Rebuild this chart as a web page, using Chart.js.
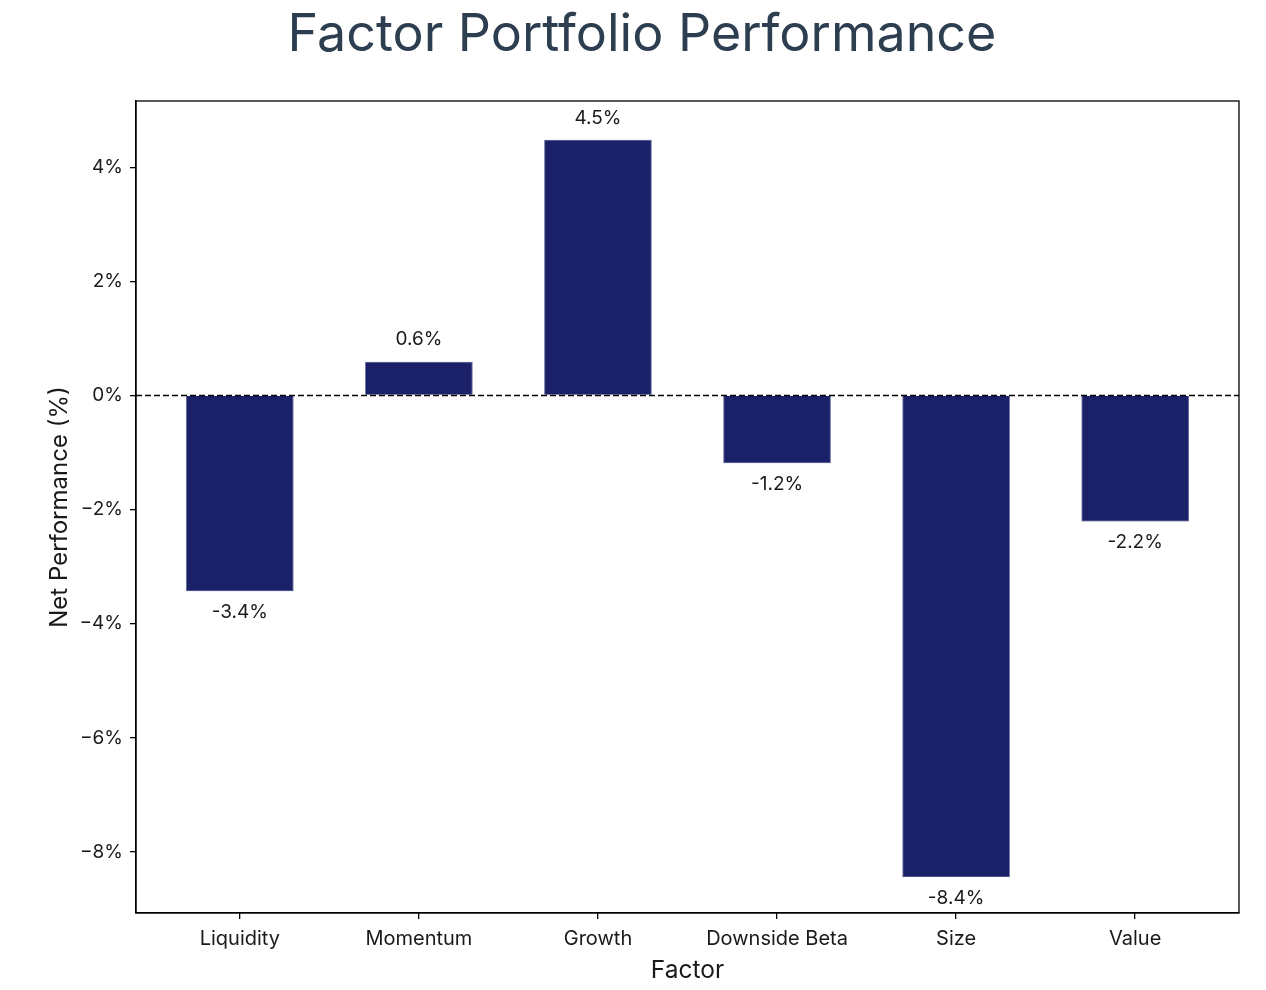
<!DOCTYPE html>
<html>
<head>
<meta charset="utf-8">
<script src="https://cdn.jsdelivr.net/npm/chart.js@4.4.0/dist/chart.umd.min.js"></script>
<style>
  html, body { margin: 0; padding: 0; background: #fff; }
  #wrap { width: 1266px; height: 990px; }
</style>
</head>
<body>
<div id="wrap"><canvas id="myChart"></canvas></div>
<script>
const factors = ['Liquidity', 'Momentum', 'Growth', 'Downside Beta', 'Size', 'Value'];
const performance = [-3.43, 0.59, 4.48, -1.19, -8.44, -2.21];
const yTicks = [-8, -6, -4, -2, 0, 2, 4];

const FONT = 'Inter, "Noto Sans", sans-serif';

// top + right spines, like a matplotlib frame
const frame = {
    id: 'frame',
    afterDraw(chart) {
        const a = chart.chartArea;
        const c = chart.ctx;
        c.save();
        c.strokeStyle = '#000';
        c.lineWidth = 1.3;
        c.strokeRect(a.left, a.top, a.right - a.left, a.bottom - a.top);
        c.restore();
    }
};

// dashed zero line + value labels
const labels = {
    id: 'labels',
    afterDatasetsDraw(chart) {
        const c = chart.ctx;
        const a = chart.chartArea;
        const y0 = chart.scales.y.getPixelForValue(0);
        c.save();
        c.strokeStyle = '#000';
        c.lineWidth = 1.5;
        c.setLineDash([6, 3]);
        c.beginPath();
        c.moveTo(a.left, y0);
        c.lineTo(a.right, y0);
        c.stroke();
        c.setLineDash([]);

        c.fillStyle = '#1a1a1a';
        c.font = '19px ' + FONT;
        c.textAlign = 'center';
        c.textBaseline = 'middle';
        chart.getDatasetMeta(0).data.forEach(function(bar, i) {
            const v = performance[i];
            const y = v >= 0 ? bar.y - 22 : bar.y + 21;
            c.fillText(v.toFixed(1) + '%', bar.x, y);
        });
        c.restore();
    }
};

const ctx = document.getElementById('myChart').getContext('2d');
const myChart = new Chart(ctx, {
    type: 'bar',
    data: {
        datasets: [{
            label: 'Net Performance',
            data: factors.map(function(f, i) { return {x: i, y: performance[i]}; }),
            backgroundColor: '#1b2169',
            borderColor: '#2a3278',
            borderWidth: 0.8,
            categoryPercentage: 1,
            barPercentage: 0.6
        }]
    },
    options: {
        responsive: true,
        maintainAspectRatio: false,
        animation: false,
        layout: { padding: { left: 45, right: 27, top: 0, bottom: 0 } },
        scales: {
            x: {
                type: 'linear',
                min: -0.58,
                max: 5.58,
                offset: false,
                afterBuildTicks: function(axis) {
                    axis.ticks = factors.map(function(f, i) { return {value: i}; });
                },
                afterFit: function(axis) { axis.height = 77; },
                ticks: {
                    color: '#1a1a1a',
                    font: { family: FONT, size: 20 },
                    padding: 8,
                    maxRotation: 0,
                    autoSkip: false,
                    callback: function(v) { return factors[v]; }
                },
                grid: { offset: false, drawOnChartArea: false, drawTicks: true, tickLength: 6, color: '#000', lineWidth: 1.3 },
                border: { display: true, color: '#000', width: 1.3 },
                title: {
                    display: true,
                    text: 'Factor',
                    color: '#1a1a1a',
                    font: { family: FONT, size: 24.5 },
                    padding: { top: 0, bottom: 5 }
                }
            },
            y: {
                min: -9.07,
                max: 5.16,
                afterBuildTicks: function(axis) {
                    axis.ticks = yTicks.map(function(v) { return {value: v}; });
                },
                afterFit: function(axis) { axis.width = 91; },
                ticks: {
                    color: '#1a1a1a',
                    font: { family: FONT, size: 19 },
                    padding: 7,
                    callback: function(v) { return (v < 0 ? '\u2212' : '') + Math.abs(v) + '%'; }
                },
                grid: { drawOnChartArea: false, drawTicks: true, tickLength: 6, color: '#000', lineWidth: 1.3 },
                border: { display: true, color: '#000', width: 1.3 },
                title: {
                    display: true,
                    text: 'Net Performance (%)',
                    color: '#1a1a1a',
                    font: { family: FONT, size: 24 },
                    padding: { top: 0, bottom: 0 }
                }
            }
        },
        plugins: {
            title: {
                display: true,
                text: 'Factor Portfolio Performance',
                color: '#2c3e50',
                font: { family: FONT, size: 52, weight: 'normal' },
                padding: { top: 4, bottom: 34.6 }
            },
            legend: { display: false },
            tooltip: { enabled: false }
        }
    },
    plugins: [frame, labels]
});
</script>
</body>
</html>
